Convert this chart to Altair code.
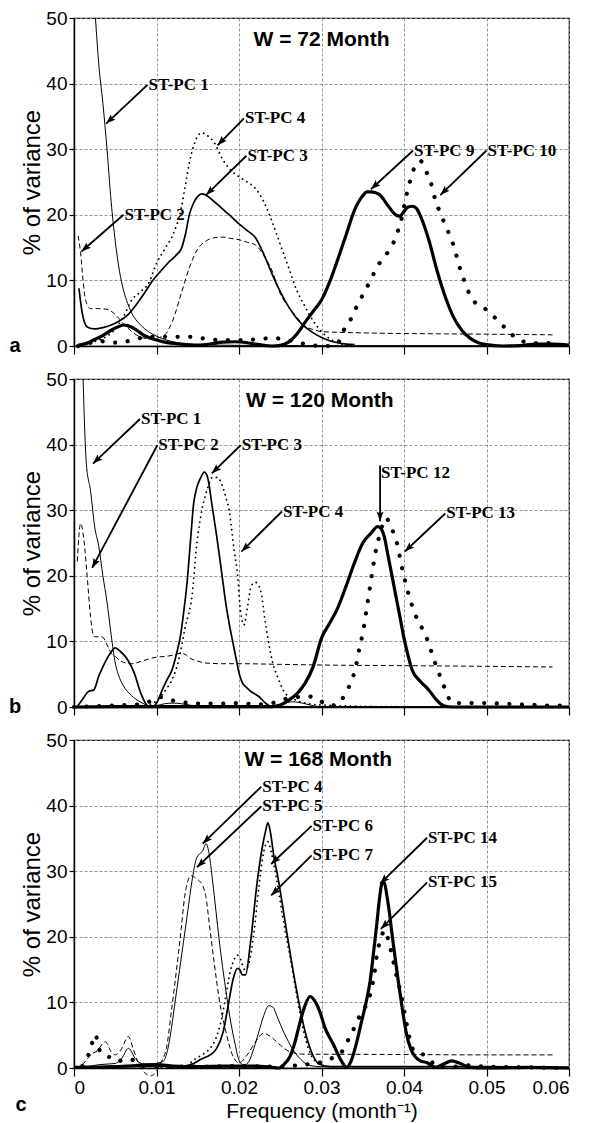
import math
import altair as alt
import pandas as pd

# ---------------- Panel a (W = 72 Month) ----------------
A1_F = [0.0026, 0.003, 0.0035, 0.004, 0.0045, 0.005, 0.0055, 0.006, 0.0065, 0.007, 0.008, 0.009, 0.010, 0.011, 0.0125, 0.015, 0.02, 0.03, 0.04, 0.05, 0.06]
A1_V = [50, 43, 37, 30, 22, 16, 11.5, 8.5, 6.5, 5, 3.3, 2.2, 1.5, 1.0, 0.5, 0.2, 0.1, 0.05, 0.05, 0.05, 0.05]
A2_F = [0.0005, 0.0008, 0.0011, 0.0014, 0.002, 0.003, 0.004, 0.005, 0.006, 0.007, 0.008, 0.009, 0.010, 0.011, 0.012, 0.013, 0.014, 0.015, 0.016, 0.017, 0.018, 0.019, 0.020, 0.021, 0.022, 0.023, 0.024, 0.025, 0.026, 0.027, 0.028, 0.029, 0.030, 0.035, 0.040, 0.045, 0.050, 0.055, 0.058]
A2_V = [16.8, 14.2, 10, 7, 5.7, 5.7, 5.6, 4.8, 3.4, 2.2, 1.4, 1.1, 1.2, 1.7, 4, 8, 12, 14.8, 16, 16.5, 16.6, 16.4, 16.2, 15.8, 15.4, 13.8, 11.5, 8, 6, 4.4, 3.0, 2.5, 2.2, 2.0, 1.9, 1.85, 1.8, 1.75, 1.7]
A3_F = [0.0006, 0.001, 0.0016, 0.0025, 0.0035, 0.0045, 0.0055, 0.0065, 0.0075, 0.0085, 0.0095, 0.0105, 0.0115, 0.0125, 0.013, 0.0135, 0.014, 0.0145, 0.015, 0.0155, 0.016, 0.017, 0.018, 0.019, 0.020, 0.021, 0.022, 0.023, 0.024, 0.025, 0.026, 0.027, 0.028, 0.029, 0.030, 0.031, 0.032, 0.033, 0.034]
A3_V = [8.8, 5, 2.9, 2.6, 2.8, 3.2, 3.8, 4.7, 6.2, 8, 9.9, 11.4, 12.8, 14, 14.8, 17, 20.1, 21.8, 22.8, 23.2, 23, 22, 20.9, 19.8, 18.6, 17.6, 16.5, 14, 11, 8.3, 6, 4.2, 2.9, 2, 1.3, 0.8, 0.5, 0.3, 0.2]
A4_F = [0.0008, 0.002, 0.003, 0.004, 0.005, 0.006, 0.007, 0.008, 0.009, 0.010, 0.011, 0.012, 0.013, 0.0135, 0.014, 0.0145, 0.015, 0.0155, 0.016, 0.017, 0.018, 0.019, 0.020, 0.021, 0.022, 0.023, 0.024, 0.025, 0.026, 0.027, 0.028, 0.029, 0.030, 0.031, 0.032, 0.033]
A4_V = [0.1, 0.5, 0.9, 1.5, 2.6, 4.5, 7, 8.2, 9.5, 12.6, 14.8, 17, 21, 24.5, 28, 30.5, 32, 32.5, 32.2, 31, 28.5, 26.8, 25.8, 25, 24, 22, 19, 15.5, 12, 8.5, 6, 3.8, 2.2, 1.1, 0.5, 0.1]
A9_F = [0.0005, 0.0015, 0.0025, 0.0035, 0.0045, 0.0055, 0.006, 0.0065, 0.0075, 0.0085, 0.0095, 0.011, 0.013, 0.015, 0.0165, 0.018, 0.0195, 0.021, 0.0225, 0.024, 0.025, 0.026, 0.027, 0.028, 0.029, 0.030, 0.031, 0.032, 0.033, 0.034, 0.035, 0.0355, 0.036, 0.037, 0.038, 0.039, 0.0395, 0.040, 0.0405, 0.041, 0.0415, 0.042, 0.043, 0.044, 0.045, 0.046, 0.047, 0.048, 0.049, 0.050, 0.052, 0.054, 0.056, 0.058, 0.060]
A9_V = [0.1, 0.4, 1.0, 1.6, 2.4, 3.0, 3.2, 3.1, 2.5, 1.6, 1.1, 0.6, 0.3, 0.15, 0.3, 0.6, 0.65, 0.5, 0.2, 0.0, 0.1, 0.6, 1.8, 3.6, 5.3, 7, 9.8, 13.3, 17, 20.7, 22.9, 23.5, 23.5, 23.1, 21.5, 20, 19.8, 20.5, 21.2, 21.3, 21, 19.8, 16.2, 11.5, 7.5, 4.4, 2.4, 1.2, 0.5, 0.2, 0, 0.05, 0.3, 0.3, 0.15]
A10_F = [0.0005, 0.002, 0.003, 0.004, 0.005, 0.006, 0.008, 0.010, 0.012, 0.014, 0.016, 0.018, 0.020, 0.022, 0.024, 0.026, 0.027, 0.028, 0.029, 0.030, 0.031, 0.032, 0.0327, 0.0336, 0.0343, 0.0351, 0.0359, 0.0366, 0.0375, 0.0385, 0.0391, 0.0396, 0.040, 0.0403, 0.0407, 0.0412, 0.042, 0.0428, 0.0434, 0.0438, 0.0444, 0.045, 0.0457, 0.0462, 0.0466, 0.0471, 0.0477, 0.0485, 0.0499, 0.0512, 0.0524, 0.0536, 0.0552, 0.0569, 0.0586]
A10_V = [0, 0.5, 0.8, 0.6, 0.5, 0.6, 1.2, 1.4, 1.4, 1.4, 1.1, 0.9, 0.9, 1.0, 1.2, 0.9, 0.6, 0.3, 0.1, 0.0, 0.0, 0.5, 2.4, 4.2, 6.1, 8, 9.9, 11.7, 13.5, 15.1, 17, 18.9, 21.2, 23, 25, 27, 28.2, 26.3, 24.3, 22.2, 20.3, 18.4, 16.4, 14.5, 12.6, 10.7, 8.6, 6.8, 5.6, 4.1, 2.6, 1.2, 0.5, 0.4, 0.6]

# ---------------- Panel b (W = 120 Month) ----------------
B1_F = [0.0011, 0.0015, 0.002, 0.0025, 0.003, 0.0035, 0.004, 0.0045, 0.005, 0.0055, 0.006, 0.007, 0.008, 0.009, 0.0095, 0.010, 0.011, 0.012, 0.013, 0.014, 0.015, 0.017, 0.020, 0.023, 0.025, 0.0265, 0.028, 0.029, 0.030, 0.035, 0.045, 0.060]
B1_V = [50, 37, 33, 27.5, 24.5, 20, 16, 11, 6.7, 4.5, 3.2, 1.7, 0.8, 0.2, 0.05, 0.2, 0.5, 0.6, 0.5, 0.3, 0.1, 0.05, 0.05, 0.1, 0.4, 0.8, 0.5, 0.2, 0.05, 0.05, 0.05, 0.05]
B2_F = [0.0004, 0.0008, 0.0012, 0.0016, 0.002, 0.0024, 0.0028, 0.0034, 0.004, 0.0045, 0.005, 0.006, 0.007, 0.008, 0.009, 0.010, 0.011, 0.012, 0.013, 0.0135, 0.014, 0.015, 0.016, 0.018, 0.020, 0.025, 0.030, 0.040, 0.050, 0.058]
B2_V = [22.2, 28, 25.5, 19.9, 13.8, 10.8, 10.7, 10.7, 9.5, 8.2, 7.7, 6.8, 6.6, 6.9, 7.3, 7.6, 7.7, 7.9, 8.2, 8.0, 7.5, 7.0, 6.7, 6.6, 6.6, 6.5, 6.4, 6.3, 6.2, 6.1]
B3_F = [0.0004, 0.001, 0.0018, 0.0024, 0.003, 0.0036, 0.0044, 0.005, 0.0056, 0.0065, 0.0073, 0.0081, 0.0089, 0.0095, 0.0101, 0.0107, 0.0113, 0.0119, 0.0125, 0.0129, 0.0133, 0.0137, 0.0141, 0.0145, 0.0149, 0.0153, 0.0158, 0.0162, 0.0167, 0.0173, 0.0179, 0.0184, 0.0188, 0.0192, 0.0196, 0.0200, 0.0204, 0.0209, 0.0214, 0.0219, 0.0224, 0.0232, 0.024, 0.030, 0.045, 0.060]
B3_V = [0.1, 1.1, 2.4, 2.6, 4.7, 6.4, 8.2, 9, 8.5, 7.2, 5.2, 2.1, 0.2, 0, 0.8, 2.6, 4.2, 5.7, 8.5, 10.8, 14.5, 18.9, 25, 31, 33.5, 34.8, 35.8, 35, 31, 26, 20.5, 15.8, 12.8, 10.2, 7.7, 5.2, 3.7, 3, 2.4, 2, 1.6, 0.6, 0.05, 0, 0, 0]
B4_F = [0.0, 0.002, 0.004, 0.006, 0.008, 0.0095, 0.0101, 0.0111, 0.0119, 0.0127, 0.0135, 0.0143, 0.0149, 0.0155, 0.0161, 0.0168, 0.0174, 0.0179, 0.0184, 0.0188, 0.0194, 0.0198, 0.0202, 0.0206, 0.021, 0.0215, 0.022, 0.0226, 0.0232, 0.024, 0.0248, 0.0256, 0.0268, 0.028, 0.030, 0.035, 0.045, 0.060]
B4_V = [0, 0, 0.1, 0.1, 0.2, 0.5, 1.1, 2.6, 4.2, 7.2, 12.3, 16.9, 25, 30, 33, 35, 35, 34, 32, 30, 24, 20.4, 14.5, 12.5, 15, 18.5, 19, 17.9, 12.8, 7.2, 4.2, 2.1, 1.1, 0.6, 0.3, 0.1, 0, 0]
B12_F = [0.0, 0.005, 0.010, 0.015, 0.020, 0.024, 0.025, 0.026, 0.027, 0.028, 0.029, 0.030, 0.031, 0.032, 0.033, 0.034, 0.035, 0.036, 0.0368, 0.0372, 0.0376, 0.038, 0.0385, 0.039, 0.0395, 0.040, 0.0405, 0.041, 0.042, 0.043, 0.044, 0.0448, 0.046, 0.050, 0.055, 0.060]
B12_V = [0, 0.05, 0.05, 0.05, 0.05, 0.05, 0.3, 1, 2, 3.6, 6.2, 10.5, 12.8, 15.2, 18.5, 22, 25, 26.5, 27.5, 27.2, 26, 23.5, 20.3, 17, 13.8, 10.5, 7.8, 5.6, 3.9, 2.6, 1.0, 0.2, 0, 0, 0, 0]
B13_F = [0.0, 0.004, 0.008, 0.0095, 0.0105, 0.012, 0.014, 0.016, 0.018, 0.020, 0.022, 0.024, 0.0255, 0.027, 0.0285, 0.030, 0.031, 0.032, 0.0325, 0.0333, 0.0339, 0.0343, 0.0346, 0.035, 0.0355, 0.036, 0.0365, 0.037, 0.0378, 0.0385, 0.0391, 0.0398, 0.0406, 0.0417, 0.0425, 0.0431, 0.0436, 0.0442, 0.0448, 0.0454, 0.046, 0.048, 0.050, 0.052, 0.054, 0.056, 0.058, 0.060]
B13_V = [0, 0.2, 0.4, 1, 1.5, 1, 0.6, 0.5, 0.5, 0.6, 0.4, 0.6, 1.2, 1.5, 1.6, 0.8, 0.2, 0.4, 1.2, 3, 4.9, 7, 9, 11.2, 15.2, 19.3, 23.3, 26, 28.8, 27.2, 25.2, 21, 17, 13.1, 11.3, 9.3, 7.3, 5.3, 3.3, 1.4, 0.6, 0.6, 0.6, 0.5, 0.4, 0.3, 0.2, 0.2]

# ---------------- Panel c (W = 168 Month) ----------------
C4_F = [0.001, 0.002, 0.003, 0.004, 0.005, 0.0058, 0.0066, 0.0075, 0.0085, 0.0095, 0.0103, 0.0108, 0.0113, 0.0118, 0.0123, 0.0128, 0.0133, 0.0138, 0.0143, 0.0148, 0.0152, 0.0156, 0.016, 0.0164, 0.0168, 0.0172, 0.0176, 0.018, 0.0185, 0.019, 0.0195, 0.02, 0.0206, 0.0212, 0.0218, 0.0224, 0.023, 0.0236, 0.0241, 0.0247, 0.0253, 0.026, 0.0267, 0.0275, 0.0285, 0.03, 0.04, 0.05, 0.058]
C4_V = [0.2, 0.3, 0.5, 0.6, 0.7, 1.5, 3.0, 1.3, 0.6, 0.6, 0.8, 1.0, 2.5, 6, 10.5, 15, 19.5, 24, 28.5, 31.8, 32.6, 33.1, 34.2, 32.5, 28.5, 24, 19.5, 15.5, 11, 7, 3.8, 1.2, 0.4, 1, 3, 5.5, 8, 9.5, 9.3, 7.6, 5.8, 4, 2.5, 1.3, 0.4, 0.2, 0.2, 0.2, 0.2]
C5_F = [0.001, 0.0015, 0.002, 0.0028, 0.0038, 0.0045, 0.005, 0.0057, 0.0066, 0.0072, 0.0078, 0.0085, 0.0093, 0.01, 0.0104, 0.0108, 0.0112, 0.0118, 0.0124, 0.013, 0.0134, 0.0138, 0.0142, 0.0147, 0.0152, 0.0156, 0.016, 0.0164, 0.017, 0.0176, 0.0184, 0.0192, 0.02, 0.021, 0.022, 0.023, 0.024, 0.025, 0.0263, 0.028, 0.03, 0.04, 0.05, 0.058]
C5_V = [0.5, 1.2, 2, 2.6, 4, 2.5, 2, 2.8, 4.8, 2.8, 0.8, -0.6, -1.2, -0.5, 0.5, 1.5, 3, 8.6, 14.7, 21.3, 26, 28.5, 29.3, 29, 28.5, 27.8, 26, 22, 16, 10.5, 5.6, 2, 0.8, 2, 4, 5.3, 4.6, 3.5, 2.4, 2.1, 2.1, 2.05, 2.0, 2.0]
C6_F = [0.0, 0.005, 0.010, 0.0135, 0.0145, 0.0155, 0.0165, 0.0173, 0.0181, 0.0187, 0.0193, 0.0198, 0.0201, 0.0204, 0.0208, 0.0214, 0.0222, 0.0228, 0.0232, 0.0235, 0.0238, 0.0242, 0.0248, 0.0256, 0.0264, 0.0272, 0.028, 0.0288, 0.0296, 0.031, 0.04, 0.05, 0.06]
C6_V = [0.1, 0.2, 0.3, 0.3, 0.7, 1.4, 2, 3, 5.6, 9.6, 13.6, 15.2, 15, 14.2, 14.2, 19.2, 28.3, 33.5, 36, 37.4, 36, 32.5, 28.5, 22.2, 16, 10.4, 5.6, 2.4, 0.7, 0.2, 0.2, 0.2, 0.1]
C7_F = [0.010, 0.0135, 0.0145, 0.0155, 0.0165, 0.0172, 0.0178, 0.0184, 0.0189, 0.0194, 0.0198, 0.0202, 0.0207, 0.0212, 0.0218, 0.0224, 0.023, 0.0235, 0.0239, 0.0243, 0.0248, 0.0253, 0.0258, 0.0264, 0.027, 0.0276, 0.0282, 0.0288, 0.0295, 0.0305, 0.032]
C7_V = [0.1, 0.3, 1.2, 2, 3, 4.5, 7, 11, 14.5, 16.5, 17.2, 16.5, 15, 16, 20.5, 27.5, 33, 34.5, 33, 30.5, 27, 23, 19.5, 15.5, 11, 7, 3.8, 1.8, 0.8, 0.3, 0.1]
C14_F = [0.0, 0.005, 0.010, 0.012, 0.015, 0.018, 0.020, 0.022, 0.024, 0.0248, 0.0255, 0.0262, 0.0268, 0.0274, 0.028, 0.0286, 0.0292, 0.0298, 0.0304, 0.0314, 0.0324, 0.033, 0.0336, 0.0342, 0.0348, 0.0354, 0.0359, 0.0363, 0.0367, 0.037, 0.0373, 0.0376, 0.0379, 0.0382, 0.0385, 0.0389, 0.0393, 0.0398, 0.0403, 0.0408, 0.0413, 0.042, 0.0428, 0.0438, 0.0448, 0.0458, 0.0468, 0.048, 0.050, 0.055, 0.060]
C14_V = [0.1, 0.2, 0.5, 0.3, 0.2, 0.3, 0.3, 0.3, 0.1, 0, 0.6, 1.8, 4, 7, 9.5, 10.9, 10.2, 8.6, 6.2, 3.7, 1.1, 0.1, 1.1, 3.6, 6.8, 10, 13.3, 17.5, 21.9, 25.5, 28, 28.3, 26.5, 24, 20.9, 17, 13.3, 9, 5.2, 3, 1.8, 1.1, 0.8, 0.1, 0.6, 1.1, 0.7, 0.1, 0, 0.1, 0]
C15_F = [0.001, 0.0016, 0.0022, 0.0026, 0.003, 0.0038, 0.0045, 0.0053, 0.0061, 0.0069, 0.0076, 0.0085, 0.01, 0.015, 0.02, 0.025, 0.027, 0.0285, 0.030, 0.0314, 0.0326, 0.0334, 0.0342, 0.0349, 0.0357, 0.0361, 0.0364, 0.0366, 0.0369, 0.0373, 0.0377, 0.0381, 0.0386, 0.039, 0.0394, 0.0398, 0.0401, 0.0404, 0.0407, 0.0412, 0.0418, 0.0425, 0.0432, 0.044, 0.046, 0.048, 0.050, 0.055, 0.060]
C15_V = [0.3, 1.5, 3.8, 5.1, 3, 1.8, 1.6, 1, 1.3, 1.3, 0.8, 0.3, 0.2, 0.2, 0.3, 0.2, 0.4, 0.6, 0.9, 1.6, 2.7, 4.7, 6.7, 8.7, 10.3, 12.3, 14.3, 16.3, 18.4, 20.2, 21, 19.5, 16.9, 14.6, 12.5, 10.3, 8.2, 6.2, 4.4, 2.6, 2.2, 2, 1.2, 0.2, 0.2, 0.4, 0.2, 0.1, 0]

# ---------------- Annotations ----------------
A_LABELS = ["ST-PC 1", "ST-PC 4", "ST-PC 3", "ST-PC 2", "ST-PC 9", "ST-PC 10"]
A_TAIL_F = [0.0089, 0.0206, 0.0209, 0.0060, 0.0411, 0.0500]
A_TAIL_V = [39.8, 34.7, 29.0, 20.0, 29.8, 29.8]
A_HEAD_F = [0.0039, 0.0174, 0.0160, 0.0009, 0.0360, 0.0444]
A_HEAD_V = [33.9, 30.6, 23.0, 14.4, 23.9, 23.0]
B_LABELS = ["ST-PC 1", "ST-PC 2", "ST-PC 3", "ST-PC 4", "ST-PC 12", "ST-PC 13"]
B_TAIL_F = [0.0080, 0.0101, 0.0202, 0.0252, 0.0371, 0.0450]
B_TAIL_V = [43.9, 39.9, 39.9, 29.8, 36.8, 29.5]
B_HEAD_F = [0.0023, 0.0022, 0.0167, 0.0203, 0.0371, 0.0401]
B_HEAD_V = [37.1, 21.2, 35.6, 23.7, 28.3, 23.7]
B_TEXT_V = [43.9, 39.9, 39.9, 29.8, 35.6, 29.5]
C_LABELS = ["ST-PC 4", "ST-PC 5", "ST-PC 6", "ST-PC 7", "ST-PC 14", "ST-PC 15"]
C_TAIL_F = [0.0227, 0.0227, 0.0288, 0.0288, 0.0428, 0.0428]
C_TAIL_V = [42.9, 39.9, 36.9, 32.4, 35.1, 28.3]
C_HEAD_F = [0.0156, 0.0149, 0.0239, 0.0239, 0.0371, 0.0372]
C_HEAD_V = [34.2, 30.6, 31.1, 26.3, 28.1, 21.2]

TITLES = ["W = 72 Month", "W = 120 Month", "W = 168 Month"]
TITLE_F = [0.0300, 0.0298, 0.0296]
TITLE_V = [46.6, 46.7, 47.0]
LETTERS = ["a", "b", "c"]

X_TICKS = [0, 0.01, 0.02, 0.03, 0.04, 0.05, 0.06]
Y_TICKS = [0, 10, 20, 30, 40, 50]

# ---------------- Styling ----------------
W, H = 495, 328
STYLES = {
    "thin": dict(strokeWidth=1.0),
    "medium": dict(strokeWidth=1.7),
    "thick": dict(strokeWidth=3.2),
    "dashed": dict(strokeWidth=1.0, strokeDash=[5, 3]),
    "dots": dict(strokeWidth=1.8, strokeDash=[0.1, 5], strokeCap="round"),
    "bigdots": dict(strokeWidth=4.2, strokeDash=[0.1, 12.5], strokeCap="round"),
}

xscale = alt.Scale(domain=[0, 0.06], nice=False, zero=False)
yscale = alt.Scale(domain=[0, 50], nice=False)


def x_axis(show_labels):
    if show_labels:
        return alt.Axis(values=X_TICKS, labelExpr="datum.value == 0 ? '0' : format(datum.value, '.2f')",
                        title="Frequency (month\u207b\u00b9)", tickSize=8, titlePadding=3, labelPadding=2,
                        titleFontSize=21)
    return alt.Axis(values=X_TICKS, labels=False, title=None, tickSize=8)


Y_AXIS = alt.Axis(values=Y_TICKS, title="% of variance", tickSize=5, titlePadding=1, labelPadding=2,
                  titleFontSize=24)


def panel(series, labels, tf, tv, hf, hv, textv, title, tpos, letter, show_x_labels, letter_pos):
    xa = x_axis(show_x_labels)

    def X(field):
        return alt.X(field, type="quantitative", scale=xscale, axis=xa)

    def Y(field):
        return alt.Y(field, type="quantitative", scale=yscale, axis=Y_AXIS)

    layers = []
    for F, V, style in series:
        df = pd.DataFrame({"f": F, "v": V})
        layers.append(alt.Chart(df).mark_line(interpolate="monotone", color="black", **STYLES[style])
                      .encode(x=X("f"), y=Y("v")))
    px_f = W / 0.06
    px_v = H / 50.0
    rows = []
    for i, lab in enumerate(labels):
        dxs = (hf[i] - tf[i]) * px_f
        dyu = (hv[i] - tv[i]) * px_v
        ang = math.degrees(math.atan2(dxs, dyu)) % 360
        rows.append({"label": lab, "f": tf[i], "v": tv[i], "tv": textv[i], "f2": hf[i], "v2": hv[i], "ang": ang})
    ann = pd.DataFrame(rows)
    layers.append(alt.Chart(ann).mark_rule(color="black", strokeWidth=1.8)
                  .encode(x=X("f"), y=Y("v"), x2="f2:Q", y2="v2:Q"))
    layers.append(alt.Chart(ann).mark_point(shape="M0,0L-0.36,1L0,0.8L0.36,1Z", filled=True, color="black",
                                            size=380, opacity=1, strokeWidth=0)
                  .encode(x=X("f2"), y=Y("v2"), angle=alt.Angle("ang:Q", scale=None)))
    layers.append(alt.Chart(ann).mark_text(font="Liberation Serif", fontWeight="bold", fontSize=17,
                                           align="left", baseline="middle", dx=1, color="black")
                  .encode(x=X("f"), y=Y("tv"), text="label:N"))
    tdf = pd.DataFrame({"f": [tpos[0]], "v": [tpos[1]], "t": [title]})
    layers.append(alt.Chart(tdf).mark_text(font="Liberation Sans", fontWeight="bold", fontSize=21,
                                           align="center", baseline="middle", color="black")
                  .encode(x=X("f"), y=Y("v"), text="t:N"))
    ldf = pd.DataFrame({"t": [letter]})
    layers.append(alt.Chart(ldf).mark_text(font="Liberation Sans", fontWeight="bold", fontSize=20,
                                           align="center", baseline="middle", color="black")
                  .encode(x=alt.value(letter_pos[0]), y=alt.value(letter_pos[1]), text="t:N"))
    return alt.layer(*layers).properties(width=W, height=H)


pa = panel([(A1_F, A1_V, "thin"), (A2_F, A2_V, "dashed"), (A3_F, A3_V, "medium"), (A4_F, A4_V, "dots"),
            (A9_F, A9_V, "thick"), (A10_F, A10_V, "bigdots")],
           A_LABELS, A_TAIL_F, A_TAIL_V, A_HEAD_F, A_HEAD_V, A_TAIL_V,
           TITLES[0], (TITLE_F[0], TITLE_V[0]), LETTERS[0], False, (-59, H))
pb = panel([(B1_F, B1_V, "thin"), (B2_F, B2_V, "dashed"), (B3_F, B3_V, "medium"), (B4_F, B4_V, "dots"),
            (B12_F, B12_V, "thick"), (B13_F, B13_V, "bigdots")],
           B_LABELS, B_TAIL_F, B_TAIL_V, B_HEAD_F, B_HEAD_V, B_TEXT_V,
           TITLES[1], (TITLE_F[1], TITLE_V[1]), LETTERS[1], False, (-59, H))
pc = panel([(C4_F, C4_V, "thin"), (C5_F, C5_V, "dashed"), (C6_F, C6_V, "medium"), (C7_F, C7_V, "dots"),
            (C14_F, C14_V, "thick"), (C15_F, C15_V, "bigdots")],
           C_LABELS, C_TAIL_F, C_TAIL_V, C_HEAD_F, C_HEAD_V, C_TAIL_V,
           TITLES[2], (TITLE_F[2], TITLE_V[2]), LETTERS[2], True, (-53, H + 37))

chart = alt.vconcat(pa, pb, pc, spacing=12).configure_axis(
    labelFont="Liberation Sans", labelFontSize=19, labelColor="black",
    titleFont="Liberation Sans", titleFontWeight="normal", titleColor="black",
    domainColor="black", domainWidth=1.5, tickColor="black", tickWidth=1.2,
    gridColor="#8a8a8a", gridDash=[3, 2], gridWidth=0.9,
).configure_view(stroke="black", strokeWidth=1.2).properties(background="white", padding=0)

chart.save("out.html", embed_options={"renderer": "svg", "actions": False})
